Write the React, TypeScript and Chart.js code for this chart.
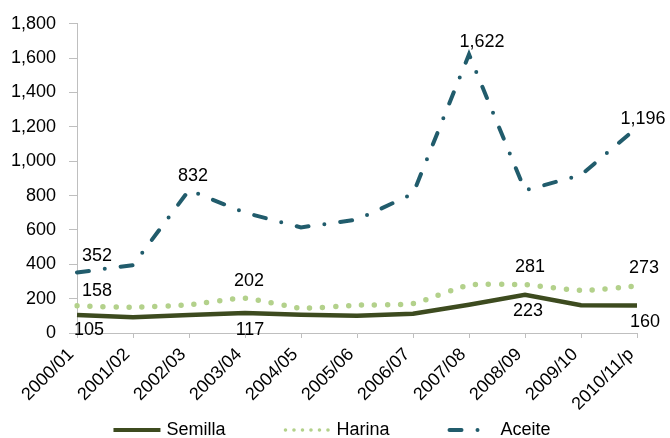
import React, { useEffect, useRef } from 'react';
import { Chart, registerables } from 'chart.js';

Chart.register(...registerables);

const CATEGORIES = ['2000/01', '2001/02', '2002/03', '2003/04', '2004/05', '2005/06', '2006/07', '2007/08', '2008/09', '2009/10', '2010/11/p'];
const SEMILLA = [105, 92, 105, 117, 106, 100, 112, 165, 223, 162, 160];
const HARINA = [158, 150, 165, 202, 145, 162, 172, 278, 281, 248, 273];
const ACEITE = [352, 395, 832, 700, 615, 660, 810, 1622, 830, 920, 1196];
const SERIES_NAMES = ['Semilla', 'Harina', 'Aceite'];
const Y_MIN = 0;
const Y_MAX = 1800;
const Y_STEP = 200;

// indices of labelled points per series
const SEMILLA_LABELS = [0, 3, 8, 10];
const HARINA_LABELS = [0, 3, 8, 10];
const ACEITE_LABELS = [0, 2, 7, 10];

const FONT = '"Liberation Sans", Arial, sans-serif';
const COLORS = ['#3d4b1f', '#b3d18b', '#215c6c'];

// label offsets (px) relative to the point, per series, aligned with *_LABELS
const LABEL_OFFSETS: [number, number][][] = [
  [[12, 15], [5, 17], [3, 16], [8, 17]],
  [[20, -15], [4, -17], [5, -18], [7, -18]],
  [[20, -17], [4, -14], [13, -12], [6, -9]],
];

const valueLabels = {
  id: 'valueLabels',
  afterDatasetsDraw(chart: any) {
    const ctx = chart.ctx;
    const idxLists = [SEMILLA_LABELS, HARINA_LABELS, ACEITE_LABELS];
    ctx.save();
    ctx.font = `18px ${FONT}`;
    ctx.fillStyle = '#000';
    ctx.textAlign = 'center';
    ctx.textBaseline = 'middle';
    idxLists.forEach((list, di) => {
      const meta = chart.getDatasetMeta(di);
      const data = chart.data.datasets[di].data;
      list.forEach((idx, k) => {
        const pt = meta.data[idx];
        const [dx, dy] = LABEL_OFFSETS[di][k];
        ctx.fillText(Number(data[idx]).toLocaleString('en-US'), pt.x + dx, pt.y + dy);
      });
    });
    ctx.restore();
  },
};

const customLegend = {
  id: 'customLegend',
  afterDraw(chart: any) {
    const ctx = chart.ctx;
    ctx.save();
    ctx.font = `18px ${FONT}`;
    const y = 430;
    const sampleW = 47;
    const textGap = 6;
    const itemGap = 58;
    const items = chart.data.datasets.map((ds: any) => ({ label: ds.label, w: ctx.measureText(ds.label).width }));
    const total = items.reduce((s: number, it: any) => s + sampleW + textGap + it.w, 0) + itemGap * (items.length - 1);
    let x = chart.width / 2 - total / 2 - 3;
    items.forEach((it: any, i: number) => {
      ctx.save();
      ctx.strokeStyle = COLORS[i];
      ctx.lineCap = 'round';
      ctx.beginPath();
      if (i === 0) {
        ctx.lineCap = 'butt';
        ctx.lineWidth = 4;
        ctx.moveTo(x, y);
        ctx.lineTo(x + sampleW, y);
      } else if (i === 1) {
        ctx.lineWidth = 3.6;
        ctx.setLineDash([0, 8.5]);
        ctx.moveTo(x + 2, y);
        ctx.lineTo(x + sampleW, y);
      } else {
        ctx.lineWidth = 4;
        ctx.setLineDash([12, 16, 0, 16]);
        ctx.moveTo(x + 2, y);
        ctx.lineTo(x + 31, y);
      }
      ctx.stroke();
      ctx.restore();
      ctx.fillStyle = '#000';
      ctx.textAlign = 'left';
      ctx.textBaseline = 'middle';
      ctx.fillText(it.label, x + sampleW + textGap, y);
      x += sampleW + textGap + it.w + itemGap;
    });
    ctx.restore();
  },
};

export default function App() {
  const ref = useRef<HTMLCanvasElement>(null);

  useEffect(() => {
    document.body.style.margin = '0';
    const canvas = ref.current;
    if (!canvas) return;
    const axisColor = '#bfbfbf';
    const chart = new Chart(canvas, {
      type: 'line',
      data: {
        labels: CATEGORIES,
        datasets: [
          {
            label: SERIES_NAMES[0],
            data: SEMILLA,
            borderColor: COLORS[0],
            backgroundColor: COLORS[0],
            borderWidth: 4.5,
            pointRadius: 0,
            tension: 0,
            fill: false,
          },
          {
            label: SERIES_NAMES[1],
            data: HARINA,
            borderColor: COLORS[1],
            backgroundColor: COLORS[1],
            borderWidth: 5.5,
            borderDash: [0, 13],
            borderCapStyle: 'round',
            pointRadius: 0,
            tension: 0.2,
            fill: false,
          },
          {
            label: SERIES_NAMES[2],
            data: ACEITE,
            borderColor: COLORS[2],
            backgroundColor: COLORS[2],
            borderWidth: 4,
            borderDash: [12, 16, 0, 16],
            borderCapStyle: 'round',
            pointRadius: 0,
            tension: 0,
            fill: false,
          },
        ],
      },
      options: {
        responsive: true,
        maintainAspectRatio: false,
        animation: false,
        layout: { padding: { left: 0, right: 33, top: 23, bottom: 0 } },
        plugins: {
          legend: { display: false },
          tooltip: { enabled: false },
          title: { display: false },
        },
        scales: {
          x: {
            type: 'category',
            offset: false,
            afterFit: (scale: any) => {
              scale.height = 105;
            },
            grid: { display: true, drawOnChartArea: false, drawTicks: true, tickLength: 5, color: axisColor },
            border: { display: true, color: axisColor, width: 1 },
            ticks: {
              autoSkip: false,
              minRotation: 45,
              maxRotation: 45,
              padding: 6,
              labelOffset: -6,
              color: '#000',
              font: { family: FONT, size: 18 },
            },
          },
          y: {
            min: Y_MIN,
            max: Y_MAX,
            afterFit: (scale: any) => {
              scale.width = 77;
            },
            grid: { display: true, drawOnChartArea: false, drawTicks: true, tickLength: 8, color: axisColor },
            border: { display: true, color: axisColor, width: 1 },
            ticks: {
              stepSize: Y_STEP,
              padding: 13,
              color: '#000',
              font: { family: FONT, size: 18 },
              callback: (v: any) => Number(v).toLocaleString('en-US'),
            },
          },
        },
      },
      plugins: [valueLabels, customLegend],
    } as any);
    return () => chart.destroy();
  }, []);

  return (
    <div style={{ width: 670, height: 438, position: 'relative' }}>
      <canvas ref={ref} />
    </div>
  );
}
